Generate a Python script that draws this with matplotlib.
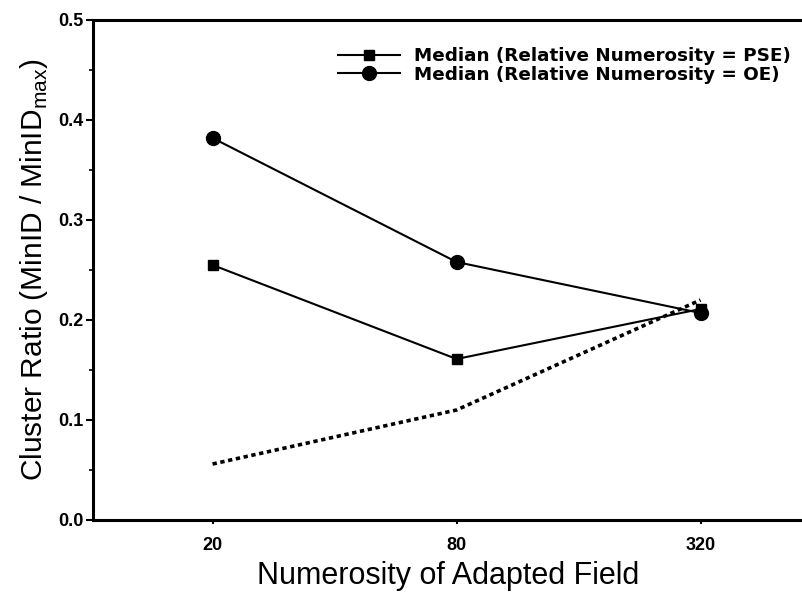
import matplotlib
matplotlib.use("Agg")
import matplotlib.pyplot as plt
import numpy as np

plt.rcParams['font.family'] = ['Liberation Sans', 'DejaVu Sans']

numerosity = ["20", "80", "320"]
pse_median = [0.255, 0.161, 0.211]
oe_median = [0.382, 0.258, 0.207]
dotted_ref = [0.056, 0.110, 0.220]
legend_labels = ["Median (Relative Numerosity = PSE)", "Median (Relative Numerosity = OE)"]

fig = plt.figure(figsize=(8.03, 5.93), dpi=100)
ax = fig.add_axes([93/803, 1-520/593, 1-93/803, (520-20)/593])

x = np.arange(len(numerosity))
ax.plot(x, pse_median, color='black', lw=1.5, marker='s', ms=7, label=legend_labels[0])
ax.plot(x, oe_median, color='black', lw=1.5, marker='o', ms=10, label=legend_labels[1])
ax.plot(x, dotted_ref, color='black', lw=2.6, linestyle=(0, (1.2, 1.0)))

ax.set_xlim(-0.49, 2.42)
ax.set_ylim(0, 0.5)
ax.set_xticks(x)
ax.set_xticklabels(numerosity, fontsize=13, fontweight='bold')
ax.set_yticks([0.0, 0.1, 0.2, 0.3, 0.4, 0.5])
ax.set_yticklabels(["0.0", "0.1", "0.2", "0.3", "0.4", "0.5"], fontsize=13, fontweight='bold')
ax.set_yticks([0.05, 0.15, 0.25, 0.35, 0.45], minor=True)
ax.tick_params(axis='y', which='major', length=5, width=1.5, direction='out', pad=2)
ax.tick_params(axis='y', which='minor', length=3, width=1.2, direction='out')
ax.tick_params(axis='x', which='major', length=3, width=1.5, direction='out', pad=9)

for s in ['left', 'bottom', 'top']:
    ax.spines[s].set_linewidth(2.2)
ax.spines['right'].set_visible(False)

ax.set_xlabel("Numerosity of Adapted Field", fontsize=22, labelpad=5)
ax.set_ylabel("Cluster Ratio (MinID / MinID$_{\\mathregular{max}}$)", fontsize=21.5, labelpad=6)

leg = ax.legend(loc='upper left', bbox_to_anchor=(338/803, 1-47/593), bbox_transform=fig.transFigure,
                frameon=False, handlelength=3.4, handletextpad=0.75, labelspacing=0.05,
                borderpad=0, borderaxespad=0,
                prop={'family': 'DejaVu Sans', 'weight': 'bold', 'size': 13.2})

fig.savefig("out.png", dpi=100)
